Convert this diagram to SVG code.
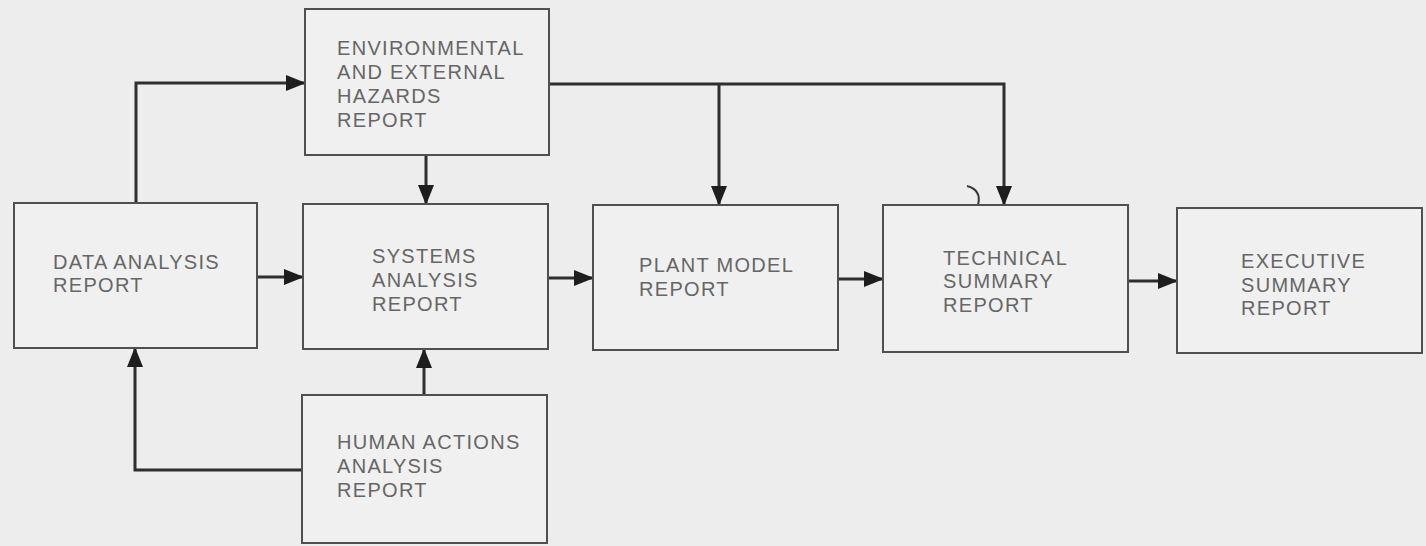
<svg xmlns="http://www.w3.org/2000/svg" width="1426" height="546" viewBox="0 0 1426 546">
<style>
.box{fill:#f0f0f0;stroke:#505050;stroke-width:2}
.lbl{font-family:"Liberation Sans",Arial,sans-serif;font-size:20px;letter-spacing:1.3px;fill:#666666}
.con{fill:none;stroke:#2e2e2e;stroke-width:3}
.mark{fill:none;stroke:#3a3a3a;stroke-width:2}
</style>
<defs>
<marker id="ah" markerUnits="userSpaceOnUse" markerWidth="20" markerHeight="16" viewBox="0 0 20 16" refX="19" refY="8" orient="auto">
<path d="M0,0 L20,8 L0,16 Z" fill="#1e1e1e"/>
</marker>
</defs>
<rect x="0" y="0" width="1426" height="546" fill="#ededed"/>
<g id="connectors">
<path class="con" d="M136,203 V83 H305" marker-end="url(#ah)"/>
<path class="con" d="M426,155 V204" marker-end="url(#ah)"/>
<path class="con" d="M257,277 H303" marker-end="url(#ah)"/>
<path class="con" d="M548,278 H593" marker-end="url(#ah)"/>
<path class="con" d="M838,279 H883" marker-end="url(#ah)"/>
<path class="con" d="M1128,281 H1177" marker-end="url(#ah)"/>
<path class="con" d="M549,84 H1004 V205" marker-end="url(#ah)"/>
<path class="con" d="M719,84 V205" marker-end="url(#ah)"/>
<path class="con" d="M424,395 V349" marker-end="url(#ah)"/>
<path class="con" d="M302,470 H135 V348" marker-end="url(#ah)"/>
</g>
<path class="mark" d="M967,186 Q982,190 978,205"/>
<g id="env">
<rect class="box" x="305" y="9" width="244" height="146"/>
<text class="lbl" x="337" y="55">ENVIRONMENTAL</text>
<text class="lbl" x="337" y="79">AND EXTERNAL</text>
<text class="lbl" x="337" y="103">HAZARDS</text>
<text class="lbl" x="337" y="127">REPORT</text>
</g>
<g id="data">
<rect class="box" x="14" y="203" width="243" height="145"/>
<text class="lbl" x="53" y="269">DATA ANALYSIS</text>
<text class="lbl" x="53" y="292">REPORT</text>
</g>
<g id="systems">
<rect class="box" x="303" y="204" width="245" height="145"/>
<text class="lbl" x="372" y="263">SYSTEMS</text>
<text class="lbl" x="372" y="287">ANALYSIS</text>
<text class="lbl" x="372" y="311">REPORT</text>
</g>
<g id="human">
<rect class="box" x="302" y="395" width="245" height="148"/>
<text class="lbl" x="337" y="449">HUMAN ACTIONS</text>
<text class="lbl" x="337" y="473">ANALYSIS</text>
<text class="lbl" x="337" y="497">REPORT</text>
</g>
<g id="plant">
<rect class="box" x="593" y="205" width="245" height="145"/>
<text class="lbl" x="639" y="272">PLANT MODEL</text>
<text class="lbl" x="639" y="296">REPORT</text>
</g>
<g id="technical">
<rect class="box" x="883" y="205" width="245" height="147"/>
<text class="lbl" x="943" y="265">TECHNICAL</text>
<text class="lbl" x="943" y="288">SUMMARY</text>
<text class="lbl" x="943" y="312">REPORT</text>
</g>
<g id="executive">
<rect class="box" x="1177" y="208" width="245" height="145"/>
<text class="lbl" x="1241" y="268">EXECUTIVE</text>
<text class="lbl" x="1241" y="292">SUMMARY</text>
<text class="lbl" x="1241" y="315">REPORT</text>
</g>
</svg>
